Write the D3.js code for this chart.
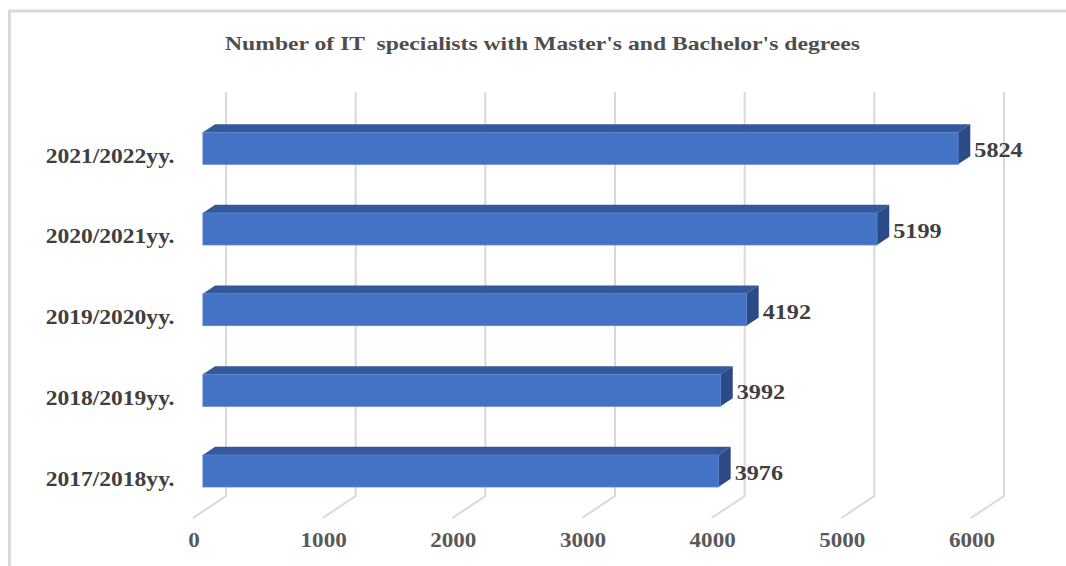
<!DOCTYPE html>
<html>
<head>
<meta charset="utf-8">
<script src="https://cdn.jsdelivr.net/npm/d3@7"></script>
<style>
  html, body { margin: 0; padding: 0; background: #fff; }
  svg { display: block; }
  text { font-family: "Liberation Serif", "Times New Roman", serif; font-weight: bold; }
</style>
</head>
<body>
<svg id="chart" width="1066" height="566"></svg>
<script>
// ---- data ----
const categories = ["2021/2022yy.", "2020/2021yy.", "2019/2020yy.", "2018/2019yy.", "2017/2018yy."];
const values = [5824, 5199, 4192, 3992, 3976];
const tickValues = [0, 1000, 2000, 3000, 4000, 5000, 6000];
const title = "Number of IT  specialists with Master's and Bachelor's degrees";

// ---- layout ----
const svg = d3.select("#chart");
const originX = 193;       // front-plane x of value 0
const floorY = 518;        // front-plane y of the floor edge
const DX = 33, DY = 22;    // depth projection offsets (front -> back)
const dFront = 0.3, dBack = 0.67; // bar depth fractions
const stretch = 1.1;

const x = d3.scaleLinear().domain([0, 6000]).range([0, 778]);
const y = d3.scalePoint().domain(categories).range([148.3, 471]);
const barH = 32;

function px(v, d) { return originX + x(v) + d * DX; }
function dy(d) { return -d * DY; }

function stretchText(sel, f) {
  sel.each(function() {
    const len = this.getComputedTextLength();
    d3.select(this).attr("textLength", len * f).attr("lengthAdjust", "spacingAndGlyphs");
  });
}

// frame
svg.append("rect")
  .attr("x", 9.5).attr("y", 11).attr("width", 1200).attr("height", 700)
  .attr("fill", "none").attr("stroke", "#d9d9d9").attr("stroke-width", 3);

// title
svg.append("text")
  .attr("x", 542.5).attr("y", 50)
  .attr("text-anchor", "middle")
  .attr("font-size", 19)
  .attr("fill", "#4d4d4d")
  .style("white-space", "pre")
  .attr("xml:space", "preserve")
  .text(title)
  .attr("textLength", 635).attr("lengthAdjust", "spacingAndGlyphs");

// gridlines (back wall + floor diagonal)
const grid = svg.append("g").attr("fill", "none").attr("stroke", "#d9d9d9").attr("stroke-width", 2);
tickValues.forEach(t => {
  const xb = px(t, 1), xf = px(t, 0);
  grid.append("path")
    .attr("d", `M${xb},92 L${xb},${floorY - DY} L${xf},${floorY}`);
});

// axis tick labels
svg.append("g").selectAll("text").data(tickValues).join("text")
  .attr("x", d => px(d, 0) + 1)
  .attr("y", 547)
  .attr("text-anchor", "middle")
  .attr("font-size", 21)
  .attr("fill", "#595959")
  .text(d => d)
  .call(stretchText, stretch);

// bars
const bars = svg.append("g").selectAll("g").data(categories).join("g");
bars.each(function(c, i) {
  const g = d3.select(this);
  const v = values[i];
  const cy = y(c);
  const top = cy - barH / 2, bot = cy + barH / 2;
  const x0 = px(0, dFront), x1 = px(v, dFront);
  const bx0 = px(0, dBack), bx1 = px(v, dBack);
  const ddy = dy(dBack - dFront);
  g.append("path")
    .attr("d", `M${x0},${top} L${bx0},${top + ddy} L${bx1},${top + ddy} L${x1},${top} Z`)
    .attr("fill", "#35589a");
  g.append("path")
    .attr("d", `M${x1},${top} L${bx1},${top + ddy} L${bx1},${bot + ddy} L${x1},${bot} Z`)
    .attr("fill", "#2c4a85");
  g.append("rect")
    .attr("x", x0).attr("y", top)
    .attr("width", x1 - x0).attr("height", barH)
    .attr("fill", "#4472c4")
    .attr("stroke", "#5a83cc").attr("stroke-width", 0.8);
  g.append("text")
    .attr("x", bx1 + 4)
    .attr("y", cy + 9)
    .attr("font-size", 22)
    .attr("fill", "#404040")
    .text(v)
    .call(stretchText, stretch);
});

// category labels
svg.append("g").selectAll("text").data(categories).join("text")
  .attr("x", 174.5)
  .attr("y", d => y(d) + 14.5)
  .attr("text-anchor", "end")
  .attr("font-size", 22)
  .attr("fill", "#404040")
  .text(d => d)
  .call(stretchText, 1.07);
</script>
</body>
</html>
